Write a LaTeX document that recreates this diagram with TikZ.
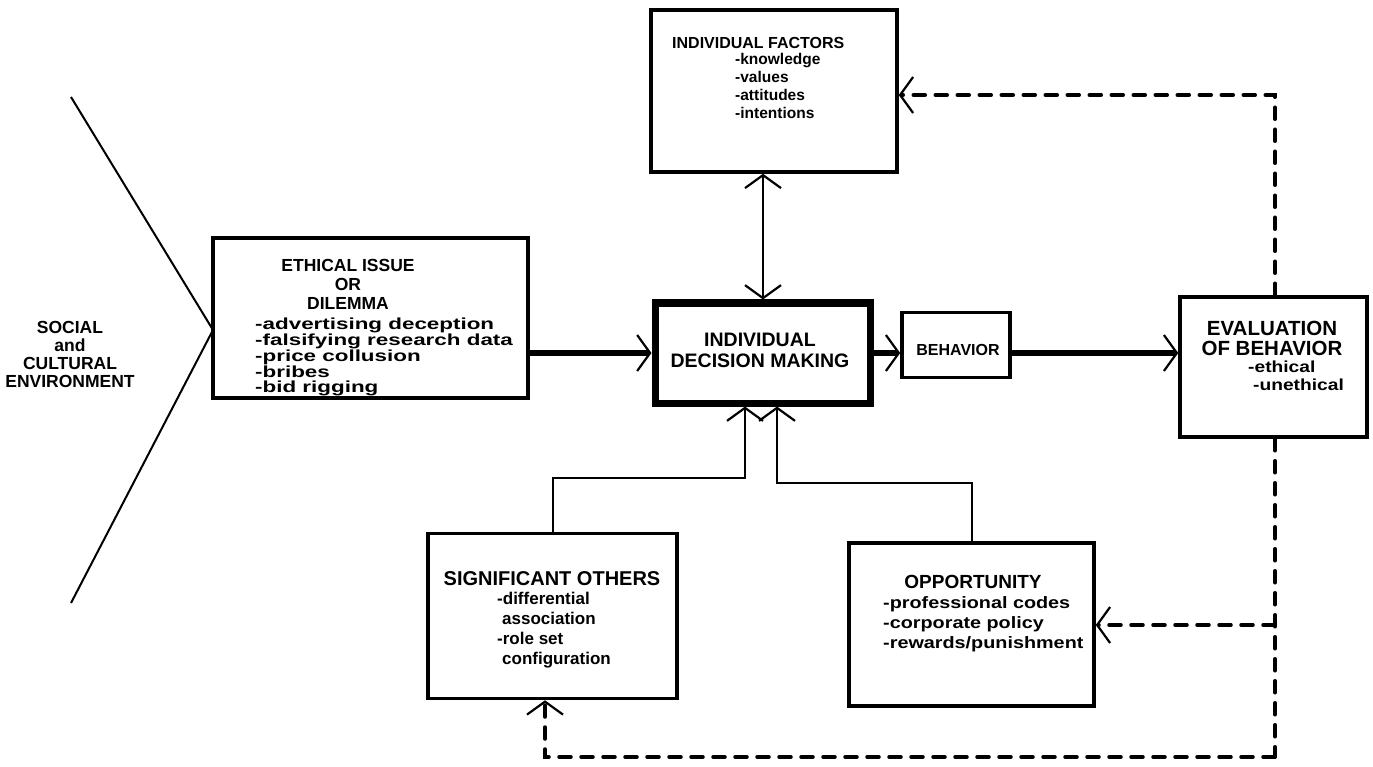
\documentclass[tikz,border=0pt]{standalone}
\usepackage{fontspec}
\setmainfont{Liberation Sans}
\newfontfamily\widesans[FakeStretch=1.4]{Liberation Sans}
\newfontfamily\semiwide[FakeStretch=1.2]{Liberation Sans}
\usetikzlibrary{arrows.meta}
\begin{document}
\begin{tikzpicture}[x=1pt,y=-1pt,
  >={Straight Barb[length=13pt,width=36pt,line width=2.2pt]},
  box/.style={draw, line width=3.5pt, inner sep=0pt},
  label/.style={inner sep=0pt, align=center},
  items/.style={inner sep=0pt, align=left},
  link/.style={line width=1.8pt},
  flow/.style={line width=6.5pt},
  feedback/.style={line width=3.5pt, dash pattern=on 12pt off 10pt, line cap=round}
]
\fill[white] (0,0) rectangle (1373,767);
\useasboundingbox (0,0) rectangle (1373,767);

% environment wedge
\coordinate (vTop) at (71,97);
\coordinate (vTip) at (213,330);
\coordinate (vBot) at (71,603);
\draw[line width=2pt] (vTop) -- (vTip) -- (vBot);
\node[label, font=\bfseries\fontsize{17.5}{18}\selectfont] (env) at (70,354)
  {SOCIAL\\and\\CULTURAL\\ENVIRONMENT};

% boxes
\node[box, minimum width=246pt, minimum height=162pt] (ifac) at (774,91) {};
\node[box, minimum width=315pt, minimum height=160pt] (ethic) at (370.5,318) {};
\node[box, line width=7pt, minimum width=215pt, minimum height=100pt] (dec) at (762.5,353) {};
\node[box, minimum width=108pt, minimum height=65pt] (beh) at (956,345) {};
\node[box, minimum width=187pt, minimum height=140pt] (eval) at (1273.5,367) {};
\node[box, minimum width=249pt, minimum height=165pt] (so) at (552.5,616) {};
\node[box, minimum width=245pt, minimum height=163pt] (op) at (971.5,624.5) {};

% box texts
\node[label, anchor=west, font=\bfseries\fontsize{16}{18}\selectfont] (ifacH) at (672,43) {INDIVIDUAL FACTORS};
\node[items, anchor=north west, font=\bfseries\fontsize{15.5}{18}\selectfont] (ifacL) at (735,53)
  {-knowledge\\-values\\-attitudes\\-intentions};

\node[label, anchor=north, font=\bfseries\fontsize{17.5}{19}\selectfont] (ethicH) at (348,259)
  {ETHICAL ISSUE\\OR\\DILEMMA};
\node[items, anchor=north west, font=\widesans\bfseries\fontsize{16}{14.5}\selectfont] (ethicL) at (255,318)
  {-advertising deception\\-falsifying research data\\-price collusion\\-bribes\\-bid rigging};

\node[label, font=\bfseries\fontsize{19.5}{21}\selectfont] (decT) at (760,350) {INDIVIDUAL\\DECISION MAKING};
\node[label, font=\bfseries\fontsize{16}{18}\selectfont] (behT) at (958,350) {BEHAVIOR};

\node[label, anchor=north, font=\bfseries\fontsize{20.5}{20}\selectfont] (evalH) at (1272,321)
  {EVALUATION\\OF BEHAVIOR};
\node[items, anchor=north west, font=\semiwide\bfseries\fontsize{16}{18}\selectfont] (evalL) at (1248,361)
  {-ethical\\\hspace*{5pt}-unethical};

\node[label, anchor=north, font=\bfseries\fontsize{20}{20}\selectfont] (soH) at (552,571) {SIGNIFICANT OTHERS};
\node[items, anchor=north west, font=\bfseries\fontsize{17}{20}\selectfont] (soL) at (497,592)
  {-differential\\\hspace*{5pt}association\\-role set\\\hspace*{5pt}configuration};

\node[label, anchor=north, font=\bfseries\fontsize{19}{20}\selectfont] (opH) at (973,575) {OPPORTUNITY};
\node[items, anchor=north west, font=\semiwide\bfseries\fontsize{16.5}{20}\selectfont] (opL) at (883,596)
  {-professional codes\\-corporate policy\\-rewards/punishment};

% main flow
\coordinate (flowY) at (0,353);
\draw[flow,->] (ethic.east |- flowY) -- (dec.west |- flowY);
\draw[flow,->] (dec.east |- flowY) -- (beh.west |- flowY);
\draw[flow,->] (beh.east |- flowY) -- (eval.west |- flowY);

% influences on the decision
\coordinate (fx) at (763,0);
\draw[link,<->] (ifac.south -| fx) -- (dec.north -| fx);
\coordinate (soTurn) at (553,478);
\coordinate (soUp) at (745,478);
\draw[link,->] (so.north -| soTurn) -- (soTurn) -- (soUp) -- (dec.south -| soUp);
\coordinate (opTurn) at (972,483);
\coordinate (opUp) at (777,483);
\draw[link,->] (op.north -| opTurn) -- (opTurn) -- (opUp) -- (dec.south -| opUp);

% feedback loops
\coordinate (dTop) at (1275,95);
\coordinate (dOp) at (1275,625);
\coordinate (dBot) at (1275,757);
\coordinate (dLeft) at (545,757);
\draw[feedback,->] (eval.north -| dTop) -- (dTop) -- (ifac.east |- dTop);
\draw[feedback] (eval.south -| dBot) -- (dBot);
\draw[feedback,->] (dOp) -- (op.east |- dOp);
\draw[feedback,->] (dBot) -- (dLeft) -- (so.south -| dLeft);
\end{tikzpicture}
\end{document}
